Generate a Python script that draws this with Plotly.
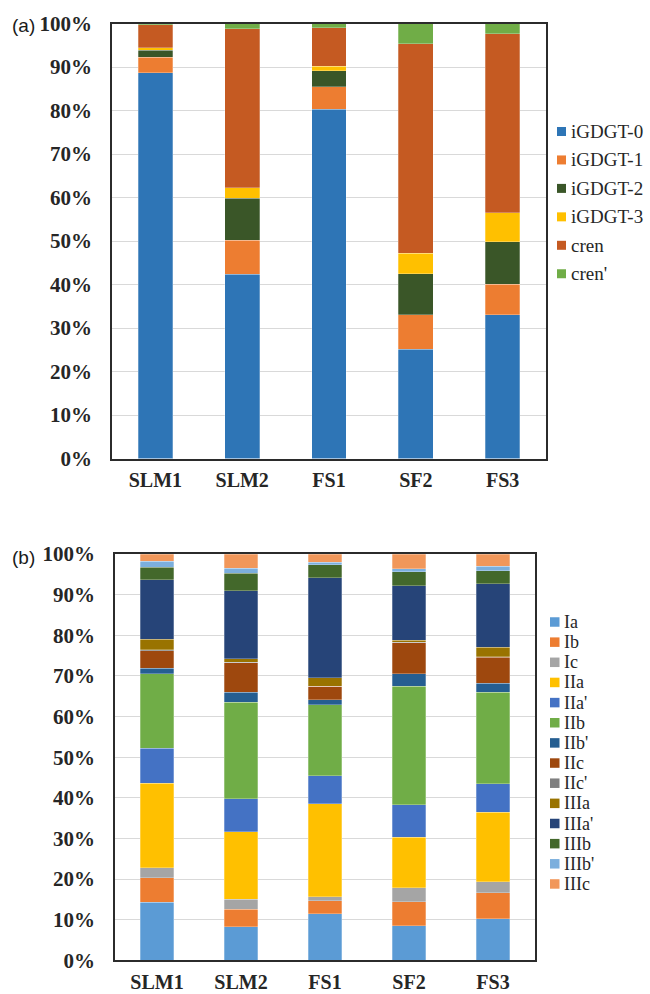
import plotly.graph_objects as go

# ---- data -------------------------------------------------------------
samples = ["SLM1", "SLM2", "FS1", "SF2", "FS3"]

# (a) isoprenoid GDGTs, relative abundance (%)
iso_names = ["iGDGT-0", "iGDGT-1", "iGDGT-2", "iGDGT-3", "cren", "cren'"]
iso_values = {
    "iGDGT-0": [88.7, 42.3, 80.3, 25.1, 33.0],
    "iGDGT-1": [3.6, 7.9, 5.2, 7.9, 7.1],
    "iGDGT-2": [1.6, 9.6, 3.6, 9.5, 9.7],
    "iGDGT-3": [0.5, 2.5, 1.1, 4.7, 6.7],
    "cren": [5.3, 36.5, 8.8, 48.2, 41.2],
    "cren'": [0.3, 1.2, 1.0, 4.6, 2.3],
}
iso_colors = ["#2E75B6", "#ED7D31", "#3A5628", "#FFC000", "#C55A22", "#70AD47"]

# (b) branched GDGTs, relative abundance (%)
br_names = ["Ia", "Ib", "Ic", "IIa", "IIa'", "IIb", "IIb'", "IIc", "IIc'",
            "IIIa", "IIIa'", "IIIb", "IIIb'", "IIIc"]
br_values = {
    "Ia": [14.3, 8.3, 11.4, 8.5, 10.2],
    "Ib": [6.0, 4.3, 3.3, 5.9, 6.4],
    "Ic": [2.5, 2.4, 1.0, 3.5, 2.7],
    "IIa": [20.8, 16.6, 22.8, 12.4, 17.2],
    "IIa'": [8.6, 8.2, 6.9, 8.0, 7.0],
    "IIb": [18.3, 23.7, 17.5, 29.2, 22.5],
    "IIb'": [1.4, 2.5, 1.2, 3.0, 2.2],
    "IIc": [4.3, 7.2, 3.3, 7.7, 6.4],
    "IIc'": [0.2, 0.1, 0.1, 0.1, 0.1],
    "IIIa": [2.6, 0.9, 2.1, 0.5, 2.3],
    "IIIa'": [14.7, 16.8, 24.6, 13.4, 15.7],
    "IIIb": [3.1, 4.3, 3.1, 3.4, 3.2],
    "IIIb'": [1.4, 1.2, 0.7, 0.8, 1.1],
    "IIIc": [1.8, 3.5, 2.0, 3.6, 3.0],
}
br_colors = ["#5B9BD5", "#ED7D31", "#A5A5A5", "#FFC000", "#4472C4", "#70AD47",
             "#255E91", "#9E480E", "#7F7F7F", "#997300", "#264478", "#43682B",
             "#7CAFDD", "#F1975A"]

# ---- layout constants (pixels) -----------------------------------------
W, H = 650, 994
TOP_BOX = dict(x0=112, x1=546, y0=23.5, y1=458.5)
BOT_BOX = dict(x0=115, x1=535, y0=554, y1=960.3)
SERIF = "Times New Roman, Liberation Serif, DejaVu Serif, serif"

def px_x(x):
    return x / W

def px_y(y):
    return 1 - y / H

fig = go.Figure()

edge = dict(width=0.6, color="rgba(255,255,255,0.45)")

for name, col in zip(iso_names, iso_colors):
    fig.add_trace(go.Bar(x=samples, y=iso_values[name], name=name,
                         marker=dict(color=col, line=edge),
                         xaxis="x", yaxis="y", showlegend=False, width=0.4))

for name, col in zip(br_names, br_colors):
    fig.add_trace(go.Bar(x=samples, y=br_values[name], name=name,
                         marker=dict(color=col, line=edge),
                         xaxis="x2", yaxis="y2", showlegend=False, width=0.4))

tick_font = dict(family=SERIF, size=21, color="#262626", weight="bold")
x_tick_font = dict(family=SERIF, size=20, color="#262626", weight="bold")
frame = dict(showline=True, linecolor="#2b2b2b", linewidth=1.5, mirror=True,
             automargin=False)

def yaxis(dom, anchor):
    return dict(domain=dom, anchor=anchor, range=[0, 100], dtick=10,
                ticksuffix="%", tickfont=tick_font, showgrid=True,
                gridcolor="#D9D9D9", gridwidth=1, zeroline=False,
                ticklabelstandoff=14, fixedrange=True, **frame)

def xaxis(dom, anchor):
    return dict(domain=dom, anchor=anchor, tickfont=x_tick_font,
                showgrid=False, ticklabelstandoff=3, **frame)

fig.update_layout(
    width=W, height=H, margin=dict(l=0, r=0, t=0, b=0, autoexpand=False),
    paper_bgcolor="white", plot_bgcolor="white",
    barmode="stack",
    xaxis=xaxis([px_x(TOP_BOX["x0"]), px_x(TOP_BOX["x1"])], "y"),
    yaxis=yaxis([px_y(TOP_BOX["y1"]), px_y(TOP_BOX["y0"])], "x"),
    xaxis2=xaxis([px_x(BOT_BOX["x0"]), px_x(BOT_BOX["x1"])], "y2"),
    yaxis2=yaxis([px_y(BOT_BOX["y1"]), px_y(BOT_BOX["y0"])], "x2"),
)

# ---- panel letters -------------------------------------------------------
for label, y in (("(a)", 25.5), ("(b)", 557)):
    fig.add_annotation(x=px_x(10), y=px_y(y), xref="paper", yref="paper",
                       text=label, showarrow=False, xanchor="left",
                       yanchor="middle",
                       font=dict(family="Liberation Sans, Arial, sans-serif",
                                 size=19, color="#1a1a1a"))

# ---- legends drawn beside each panel ---------------------------------------
def add_legend(names, colors, sq_x, txt_x, y_first, step, sq, size):
    font = dict(family=SERIF, size=size, color="#262626")
    for i, (name, col) in enumerate(zip(names, colors)):
        yc = y_first + i * step
        fig.add_shape(type="rect", xref="paper", yref="paper",
                      x0=px_x(sq_x), x1=px_x(sq_x + sq),
                      y0=px_y(yc + sq / 2), y1=px_y(yc - sq / 2),
                      fillcolor=col, line=dict(width=0))
        fig.add_annotation(x=px_x(txt_x), y=px_y(yc), xref="paper",
                           yref="paper", text=name, showarrow=False,
                           xanchor="left", yanchor="middle", font=font)

add_legend(iso_names, iso_colors, 557, 569, 131.5, 28.45, 9, 19)
add_legend(br_names, br_colors, 550, 562, 622, 20.15, 9.5, 18)

fig.write_html("out.html")
